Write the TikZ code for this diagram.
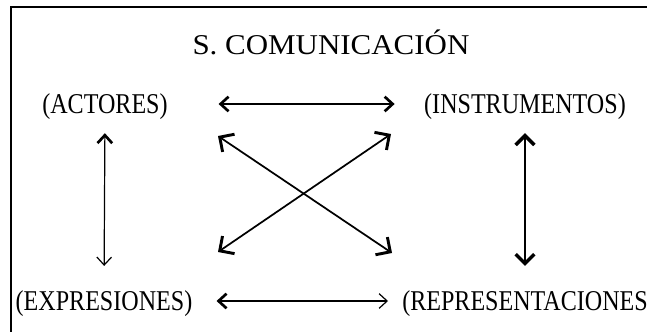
\documentclass[tikz,border=0pt]{standalone}
\usepackage{fontspec}
\setmainfont{Liberation Serif}
\newfontfamily\rotulo[FakeStretch=0.84]{Liberation Serif}
\newfontfamily\titular[FakeStretch=1.08]{Liberation Serif}
\usetikzlibrary{arrows.meta}

\tikzset{
  etiqueta/.style={inner sep=0pt, text height=14.2pt, text depth=0pt,
    font=\rotulo\fontsize{21.5}{21.5}\selectfont},
  gruesa/.tip={Straight Barb[length=6pt,width=11pt,line width=2pt]},
  fina/.tip={Straight Barb[length=6pt,width=11pt,line width=0.9pt]},
  grande/.tip={Straight Barb[length=7pt,width=14pt,line width=2.6pt]},
  esquina/.tip={Straight Barb[length=8pt,width=16pt,line width=2.2pt]},
}

\begin{document}
\begin{tikzpicture}[x=0.75pt,y=-0.75pt]
        \useasboundingbox (0,0) rectangle (647,332);
        \clip (0,0) rectangle (647,332);
        \draw[line width=1.5pt] (11,340) -- (11,7) -- (660,7);

        \node[etiqueta, font=\titular\fontsize{21.5}{21.5}\selectfont]
          (titulo) at (331,45) {S. COMUNICACIÓN};
        \node[etiqueta] (actores) at (105,104) {(ACTORES)};
        \node[etiqueta] (instrumentos) at (525,104) {(INSTRUMENTOS)};
        \node[etiqueta] (expresiones) at (104,301) {(EXPRESIONES)};
        \node[etiqueta, anchor=west] (representaciones) at (402,301) {(REPRESENTACIONES};

        % ends of the cross
        \coordinate (x1) at (218,136);
        \coordinate (x2) at (391,134);
        \coordinate (x3) at (218,252);
        \coordinate (x4) at (392,253);

        \draw[gruesa-gruesa, line width=1.1pt, shorten <=38pt, shorten >=22pt]
          (actores) -- (instrumentos);
        \draw[gruesa-fina, line width=1.1pt, shorten <=18pt, shorten >=10.5pt]
          (expresiones.east) -- (representaciones.west);
        \draw[gruesa-fina, line width=0.9pt, shorten <=14.6pt, shorten >=19pt]
          (actores.south) -- (expresiones.north);
        \draw[grande-grande, line width=2.2pt, shorten <=14.6pt, shorten >=19pt]
          (instrumentos.south) -- (instrumentos.south |- representaciones.north);
        \draw[esquina-esquina, line width=1.3pt] (x1) -- (x4);
        \draw[esquina-esquina, line width=1.3pt] (x3) -- (x2);
      \end{tikzpicture}
\end{document}
